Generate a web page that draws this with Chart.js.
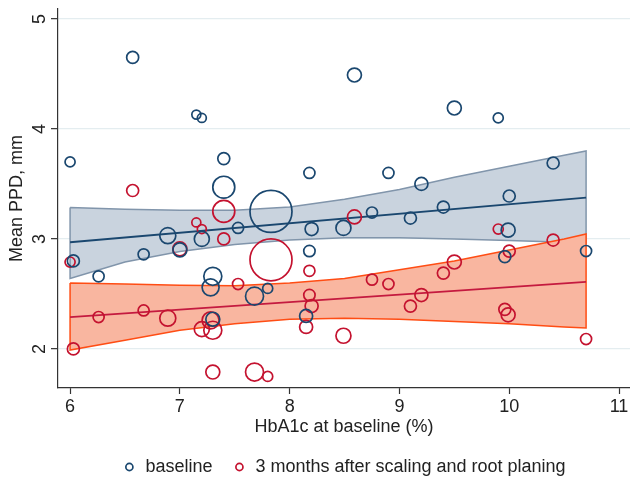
<!DOCTYPE html>
<html>
<head>
<meta charset="utf-8">
<script src="https://cdn.jsdelivr.net/npm/chart.js@4/dist/chart.umd.min.js"></script>
<style>
  html, body { margin: 0; padding: 0; background: #fff; }
  #wrap { width: 630px; height: 481px; }
</style>
</head>
<body>
<div id="wrap"><canvas id="c" width="630" height="481"></canvas></div>
<script>
// one entry per patient
var hba1c = [6.0, 6.03, 6.26, 6.57, 6.67, 6.89, 7.0, 7.15, 7.2, 7.2, 7.4, 7.4, 7.3, 7.28, 7.3,
  7.53, 7.68, 7.8, 7.83, 8.18, 8.2, 8.18, 8.15, 8.49, 8.59, 8.75, 8.9, 9.1, 9.2, 9.4,
  9.5, 9.9, 10.0, 9.99, 9.96, 10.4, 10.7];
var ppdBaseline = [3.7, 2.8, 2.66, 4.65, 2.86, 3.03, 2.9, 4.13, 4.1, 3.0, 3.73, 3.47, 2.66, 2.56, 2.27,
  3.1, 2.48, 2.55, 3.25, 3.6, 3.09, 2.89, 2.3, 3.1, 4.49, 3.24, 3.6, 3.19, 3.5, 3.29,
  4.19, 4.1, 3.39, 3.08, 2.84, 3.69, 2.89];
var ppdAfter = [2.79, 2.0, 2.29, 3.44, 2.35, 2.28, 2.91, 3.15, 3.09, 2.18, 3.0, 3.25, 2.17, 2.26, 1.79,
  2.59, 1.79, 1.75, 2.81, 2.71, 2.39, 2.49, 2.2, 2.12, 3.2, 2.63, 2.59, 2.39, 2.49, 2.69,
  2.79, 3.09, 2.89, 2.31, 2.36, 2.99, 2.09];
var weights = [2.8, 4, 3.4, 4, 3.4, 7.1, 5.4, 2.25, 2.25, 6.25, 4, 13.4, 9, 8, 5.4,
  3.4, 9, 2.8, 49, 3.4, 4.7, 3.6, 4.7, 6.25, 5.4, 3.4, 3.4, 4, 4.7, 4,
  5.4, 2.8, 4, 5.4, 4, 4, 3.4];

// fitted lines and 95% bands
var fitX = [6.0, 10.7];
var fitBaseline = [2.97, 3.375];
var fitAfter = [2.29, 2.61];
var bandX = [6.0, 6.5, 7.0, 7.5, 8.0, 8.5, 9.0, 9.5, 10.0, 10.5, 10.7];
var bandBaseHi = [3.285, 3.27, 3.26, 3.26, 3.29, 3.36, 3.45, 3.56, 3.66, 3.76, 3.8];
var bandBaseLo = [2.64, 2.79, 2.885, 2.95, 2.99, 3.01, 3.01, 3.0, 2.985, 2.97, 2.96];
var bandAfterHi = [2.6, 2.59, 2.58, 2.575, 2.6, 2.64, 2.72, 2.8, 2.9, 3.0, 3.045];
var bandAfterLo = [1.99, 2.08, 2.17, 2.23, 2.27, 2.28, 2.27, 2.25, 2.23, 2.2, 2.19];

var xTicks = [6, 7, 8, 9, 10, 11];
var yTicks = [2, 3, 4, 5];

var FONT = '"Liberation Sans", Arial, sans-serif';
var BLUE = '#1a476f';
var RED = '#c4122f';

function bandShape(hi, lo){
  var pts = [];
  for (var i = 0; i < bandX.length; i++) pts.push({x: bandX[i], y: hi[i]});
  for (var j = bandX.length - 1; j >= 0; j--) pts.push({x: bandX[j], y: lo[j]});
  pts.push({x: bandX[0], y: hi[0]});
  return pts;
}
function linePts(ys){
  return fitX.map(function(x, i){ return {x: x, y: ys[i]}; });
}
function bubbles(ys){
  return hba1c.map(function(x, i){ return {x: x, y: ys[i], r: 3 * Math.sqrt(weights[i])}; });
}

var yTickText = {
  id: 'yTickText',
  afterDraw: function(chart){
    var ctx = chart.ctx, s = chart.scales.y;
    ctx.save();
    ctx.font = '18px ' + FONT;
    ctx.fillStyle = '#222';
    ctx.textAlign = 'center';
    ctx.textBaseline = 'middle';
    yTicks.forEach(function(v){
      ctx.save();
      ctx.translate(40, s.getPixelForValue(v));
      ctx.rotate(-Math.PI / 2);
      ctx.fillText(String(v), 0, 0);
      ctx.restore();
    });
    ctx.restore();
  }
};

new Chart(document.getElementById('c').getContext('2d'), {
  type: 'bubble',
  data: {
    datasets: [
      {type: 'line', data: bandShape(bandBaseHi, bandBaseLo), fill: 'shape',
       backgroundColor: '#c9d3de', borderColor: '#8195ab', borderWidth: 1.5,
       pointRadius: 0, tension: 0, order: 4},
      {type: 'line', data: bandShape(bandAfterHi, bandAfterLo), fill: 'shape',
       backgroundColor: '#f9b6a0', borderColor: '#ff4d14', borderWidth: 1.5,
       pointRadius: 0, tension: 0, order: 3},
      {type: 'line', data: linePts(fitBaseline), borderColor: BLUE, borderWidth: 1.8,
       pointRadius: 0, fill: false, order: 2},
      {type: 'line', data: linePts(fitAfter), borderColor: '#c41a3f', borderWidth: 1.8,
       pointRadius: 0, fill: false, order: 2},
      {label: 'baseline', data: bubbles(ppdBaseline), borderColor: BLUE,
       backgroundColor: 'rgba(0,0,0,0)', borderWidth: 1.7, order: 1},
      {label: '3 months after scaling and root planing', data: bubbles(ppdAfter), borderColor: RED,
       backgroundColor: 'rgba(0,0,0,0)', borderWidth: 1.7, order: 1}
    ]
  },
  options: {
    responsive: false,
    animation: false,
    layout: {autoPadding: false, padding: {top: 9, left: 0, right: 0, bottom: -5}},
    plugins: {
      tooltip: {enabled: false},
      legend: {
        position: 'bottom',
        fullSize: false,
        labels: {
          usePointStyle: true, boxWidth: 14, boxHeight: 5, padding: 20,
          color: '#222', font: {family: FONT, size: 18},
          filter: function(item){ return item.datasetIndex >= 4; }
        }
      }
    },
    scales: {
      x: {
        type: 'linear', min: 5.89, max: 11.1,
        afterBuildTicks: function(s){ s.ticks = xTicks.map(function(v){ return {value: v}; }); },
        afterFit: function(s){ s.paddingLeft = 0; s.paddingRight = 0; s.height = 50; },
        ticks: {includeBounds: false, color: '#222', font: {family: FONT, size: 18}, padding: 2, maxRotation: 0},
        grid: {drawOnChartArea: false, tickLength: 6, tickColor: '#333', tickWidth: 1.2},
        border: {color: '#333', width: 1.2},
        title: {display: true, text: 'HbA1c at baseline (%)', color: '#222',
                font: {family: FONT, size: 18}, padding: {top: 0, bottom: 0}}
      },
      y: {
        type: 'linear', min: 1.645, max: 5.09,
        afterBuildTicks: function(s){ s.ticks = yTicks.map(function(v){ return {value: v}; }); },
        afterFit: function(s){ s.width = 58; s.paddingTop = 0; s.paddingBottom = 0; },
        ticks: {display: false},
        grid: {color: '#e4edf0', lineWidth: 1.3, tickLength: 7, tickColor: '#333', tickWidth: 1.2},
        border: {color: '#333', width: 1.2},
        title: {display: true, text: 'Mean PPD, mm', color: '#222',
                font: {family: FONT, size: 18}, padding: {top: 6, bottom: 0}}
      }
    }
  },
  plugins: [yTickText]
});
</script>
</body>
</html>
